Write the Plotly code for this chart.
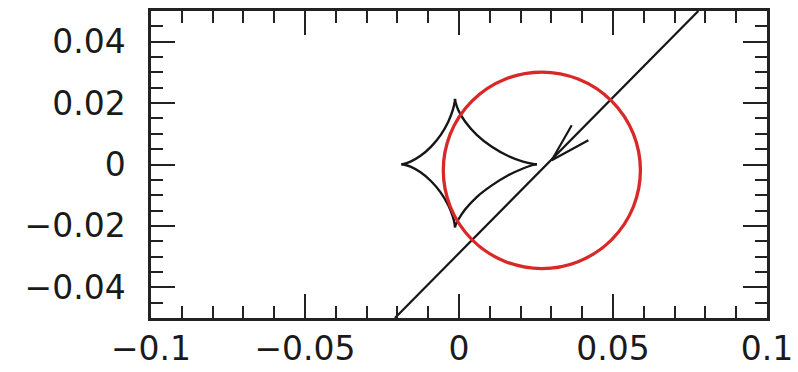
import plotly.graph_objects as go

# Axis ticks
x_tick_vals = [-0.1, -0.05, 0, 0.05, 0.1]
x_tick_text = ["\u22120.1", "\u22120.05", "0", "0.05", "0.1"]
y_tick_vals = [-0.04, -0.02, 0, 0.02, 0.04]
y_tick_text = ["\u22120.04", "\u22120.02", "0", "0.02", "0.04"]

# Caustic: four concave arcs meeting at cusps (left, top, right, bottom)
arc_upper_left_x = [-0.0187, -0.01792, -0.01574, -0.01261, -0.00912, -0.00592, -0.00348, -0.0020, -0.00139, -0.0013]
arc_upper_left_y = [0.0001, 0.00021, 0.00095, 0.00276, 0.00576, 0.00967, 0.01395, 0.01778, 0.02044, 0.0214]
arc_lower_left_x = [-0.0187, -0.01792, -0.01574, -0.01261, -0.00912, -0.00592, -0.00348, -0.0020, -0.00139, -0.0013]
arc_lower_left_y = [0.0001, 0.0000, -0.00072, -0.00248, -0.00537, -0.00916, -0.01329, -0.0170, -0.01957, -0.0205]
arc_upper_right_x = [0.0253, 0.0241, 0.02078, 0.01599, 0.01066, 0.00576, 0.00203, -0.00024, -0.00116, -0.0013]
arc_upper_right_y = [0.0001, 0.00021, 0.00095, 0.00276, 0.00576, 0.00967, 0.01395, 0.01778, 0.02044, 0.0214]
arc_lower_right_x = [0.0253, 0.0241, 0.02078, 0.01599, 0.01066, 0.00576, 0.00203, -0.00024, -0.00116, -0.0013]
arc_lower_right_y = [0.0001, -0.0001, -0.0013, -0.0035, -0.0068, -0.0106, -0.0146, -0.0180, -0.0198, -0.0205]

# Source trajectory and its direction arrow
track_x = [-0.0208, 0.0777]
track_y = [-0.05, 0.05]
arrow_x = [0.0366, 0.0301, 0.0420]
arrow_y = [0.0128, 0.0014, 0.0079]

# Source disc
source_cx = 0.0269
source_cy = -0.0019
source_r = 0.032

fig = go.Figure()

arcs = [
    (arc_upper_left_x, arc_upper_left_y),
    (arc_lower_left_x, arc_lower_left_y),
    (arc_upper_right_x, arc_upper_right_y),
    (arc_lower_right_x, arc_lower_right_y),
]
for ax_, ay_ in arcs:
    fig.add_trace(go.Scatter(
        x=ax_, y=ay_, mode="lines",
        line=dict(color="#161616", width=2.4, shape="spline", smoothing=0.6),
        showlegend=False, hoverinfo="skip",
    ))

fig.add_trace(go.Scatter(
    x=track_x, y=track_y, mode="lines",
    line=dict(color="#161616", width=2.2),
    showlegend=False, hoverinfo="skip",
))
fig.add_trace(go.Scatter(
    x=arrow_x, y=arrow_y, mode="lines",
    line=dict(color="#161616", width=2.2),
    showlegend=False, hoverinfo="skip",
))

fig.add_shape(
    type="circle", xref="x", yref="y",
    x0=source_cx - source_r, x1=source_cx + source_r,
    y0=source_cy - source_r, y1=source_cy + source_r,
    line=dict(color="#d92828", width=3.3),
)

axis_common = dict(
    showgrid=False, zeroline=False, automargin=False,
    showline=True, linecolor="#222222", linewidth=2.5, mirror="allticks",
    ticks="inside", ticklen=24, tickwidth=2, tickcolor="#222222",
    tickfont=dict(family="DejaVu Sans", size=33, color="#1a1a1a"),
)

fig.update_xaxes(
    range=[-0.1, 0.1], tickmode="array",
    tickvals=x_tick_vals, ticktext=x_tick_text,
    ticklabelstandoff=0,
    minor=dict(tickmode="linear", tick0=0, dtick=0.01, ticks="inside",
               ticklen=12, tickwidth=2, tickcolor="#222222", showgrid=False),
    **axis_common,
)
fig.update_yaxes(
    range=[-0.05, 0.05], tickmode="array",
    tickvals=y_tick_vals, ticktext=y_tick_text,
    ticklabelstandoff=16,
    minor=dict(tickmode="linear", tick0=0, dtick=0.005, ticks="inside",
               ticklen=12, tickwidth=2, tickcolor="#222222", showgrid=False),
    **axis_common,
)

fig.update_layout(
    width=798, height=372,
    margin=dict(l=151, r=31, t=11, b=54),
    paper_bgcolor="white", plot_bgcolor="white",
    showlegend=False,
)

fig.write_html("out.html")
